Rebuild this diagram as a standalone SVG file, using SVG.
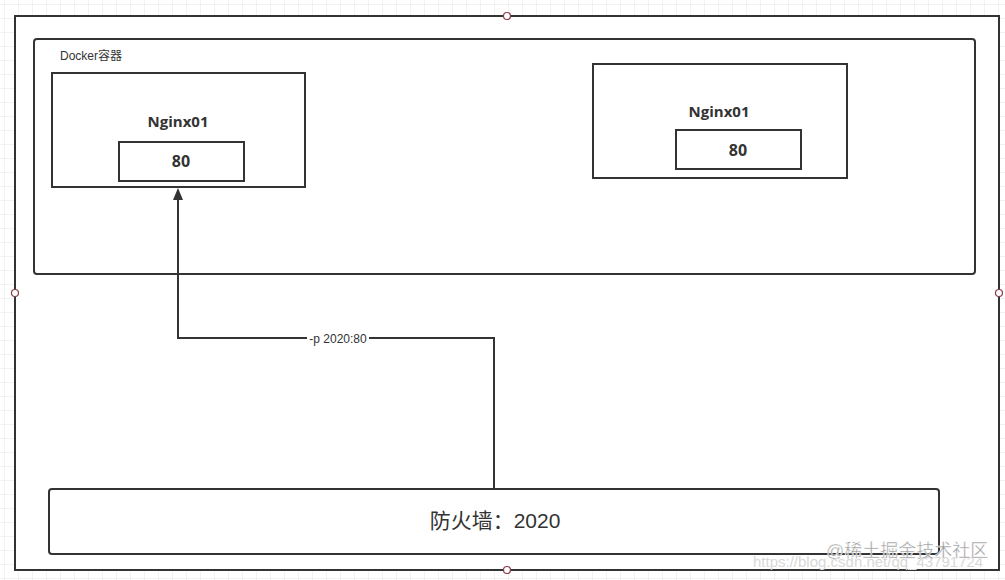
<svg xmlns="http://www.w3.org/2000/svg" width="1005" height="580" viewBox="0 0 1005 580">
<defs>
<pattern id="grid" width="14" height="14" patternUnits="userSpaceOnUse" x="4" y="4">
<path d="M14 0 H0 V14" fill="none" stroke="#e6e6e6" stroke-width="1"/>
</pattern>
<marker id="arrow" markerWidth="12" markerHeight="10" refX="10" refY="5" orient="auto" markerUnits="userSpaceOnUse" viewBox="0 0 12 10">
<path d="M0 0 L12 5 L0 10 Z" fill="#333"/>
</marker>
<style>
.box{fill:#fff;stroke:#333;stroke-width:2}
.title{font-family:"Open Sans","Liberation Sans",sans-serif;font-weight:bold;font-size:15px;fill:#333;text-anchor:middle}
.port{font-family:"Open Sans","Liberation Sans",sans-serif;font-weight:bold;font-size:16px;fill:#333;text-anchor:middle}
.handle{fill:#fff;stroke:#8b3a4a;stroke-width:1.2}
.edge{fill:none;stroke:#333;stroke-width:2}
</style>
</defs>
<rect width="1005" height="580" fill="#fff"/>
<rect width="1005" height="580" fill="url(#grid)"/>
<g id="outer">
<rect class="box" x="15" y="16" width="984" height="554"/>
</g>
<g id="docker">
<rect class="box" x="34" y="39" width="941" height="235" rx="3"/>
<text x="60" y="60" font-family="'Liberation Sans','Noto Sans CJK SC',sans-serif" font-size="12" fill="#333">Docker容器</text>
</g>
<g id="nginx-left">
<rect class="box" x="52" y="73" width="253" height="114"/>
<text class="title" x="178" y="127">Nginx01</text>
<rect class="box" x="119" y="142" width="125" height="39"/>
<text class="port" x="181" y="167">80</text>
</g>
<g id="nginx-right">
<rect class="box" x="593" y="64" width="254" height="114"/>
<text class="title" x="719" y="117">Nginx01</text>
<rect class="box" x="676" y="130" width="125" height="39"/>
<text class="port" x="738" y="156">80</text>
</g>
<g id="firewall">
<rect class="box" x="49" y="489" width="890" height="65" rx="3"/>
<text x="495" y="528" text-anchor="middle" font-family="'Liberation Sans','Noto Sans CJK SC',sans-serif" font-size="21" fill="#333">防火墙：2020</text>
</g>
<g id="connectors">
<path class="edge" d="M494 489 V338 H178 V190" marker-end="url(#arrow)"/>
<rect x="307" y="332" width="62" height="14" fill="#fff"/>
<text x="338" y="343" text-anchor="middle" font-family="'Liberation Sans',sans-serif" font-size="12" fill="#333">-p 2020:80</text>
</g>
<g id="handles">
<circle class="handle" cx="507" cy="16" r="3.5"/>
<circle class="handle" cx="15" cy="293" r="3.5"/>
<circle class="handle" cx="999" cy="293" r="3.5"/>
<circle class="handle" cx="507" cy="570" r="3.5"/>
</g>
<g id="watermark">
<text x="753" y="567" font-family="'Liberation Sans',sans-serif" font-size="15" fill="#d8d8d8">https://blog.csdn.net/qq_43791724</text>
<text x="826" y="557" font-family="'Liberation Sans','Noto Sans CJK SC',sans-serif" font-size="18" fill="#9a9a9a" stroke="#fff" stroke-width="0.4">@稀土掘金技术社区</text>
</g>
</svg>
